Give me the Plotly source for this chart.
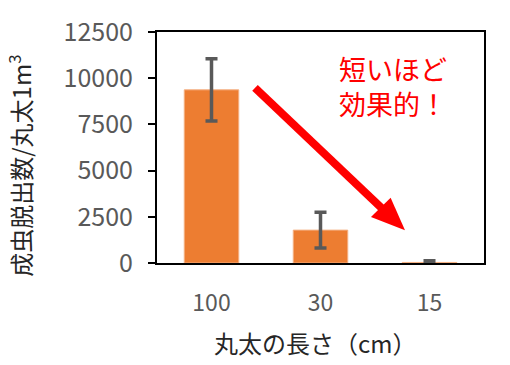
import plotly.graph_objects as go
import math

categories = ["100", "30", "15"]
values = [9370, 1780, 30]
errors = [1680, 970, 90]
y_ticks = [0, 2500, 5000, 7500, 10000, 12500]
y_tick_text = ["0", "2500", "5000", "7500", "10000", "12500"]

W, H = 510, 365
L, R, T, B = 157, 26, 23, 102
PW, PH = W - L - R, H - T - B

def px(x):
    return (x - L) / PW

def py(y):
    return (H - B - y) / PH

FONT = "Noto Sans CJK JP"

fig = go.Figure()
fig.add_trace(go.Bar(
    x=categories, y=values,
    marker=dict(color="#ED7D31", line=dict(color="#F4B183", width=1)),
    error_y=dict(type="data", array=errors, visible=True,
                 color="#595959", thickness=3.5, width=6),
))

# arrow (decoration)
sx, sy = 255, 81
tx, ty = 405, 229
dx, dy = tx - sx, ty - sy
d = math.hypot(dx, dy)
ux, uy = dx / d, dy / d
hl, hw = 34, 14
bx, by = tx - ux * hl, ty - uy * hl
p1 = (bx - uy * hw, by + ux * hw)
p2 = (bx + uy * hw, by - ux * hw)
fig.add_shape(type="line", xref="paper", yref="paper",
              x0=px(sx), y0=py(sy), x1=px(bx + ux * 2), y1=py(by + uy * 2),
              line=dict(color="#FF0000", width=8))
path = "M {} {} L {} {} L {} {} Z".format(px(tx), py(ty), px(p1[0]), py(p1[1]), px(p2[0]), py(p2[1]))
fig.add_shape(type="path", xref="paper", yref="paper", path=path,
              fillcolor="#FF0000", line=dict(color="#FF0000", width=0))

fig.add_annotation(text="短いほど<br>効果的！", xref="paper", yref="paper",
                   x=px(337), y=py(79), xanchor="left", yanchor="middle",
                   showarrow=False, align="left",
                   font=dict(family=FONT, size=27, color="#FF0000"))
fig.add_annotation(text="丸太の長さ（cm）", xref="paper", yref="paper",
                   x=px(315), y=py(346), xanchor="center", yanchor="middle",
                   showarrow=False, font=dict(family=FONT, size=24, color="#262626"))
fig.add_annotation(text="成虫脱出数/丸太1m<sup>3</sup>", xref="paper", yref="paper",
                   x=px(20), y=py(162), xanchor="center", yanchor="middle",
                   textangle=-90, showarrow=False,
                   font=dict(family=FONT, size=24, color="#262626"))

fig.update_layout(
    width=W, height=H, margin=dict(l=L, r=R, t=T, b=B),
    paper_bgcolor="white", plot_bgcolor="white",
    bargap=0.5, showlegend=False,
    font=dict(family=FONT),
)
fig.update_xaxes(showline=True, linecolor="black", linewidth=2, mirror=True,
                 ticks="", tickfont=dict(size=23, color="#595959"),
                 showgrid=False, ticklabelstandoff=18)
fig.update_yaxes(range=[0, 12500], tickvals=y_ticks, ticktext=y_tick_text,
                 showline=True, linecolor="black",
                 linewidth=2, mirror=True, ticks="outside", ticklen=7, tickwidth=2,
                 tickcolor="black", tickfont=dict(size=25, color="#595959"),
                 showgrid=False, zeroline=False, ticklabelstandoff=10)

fig.write_html("out.html")
